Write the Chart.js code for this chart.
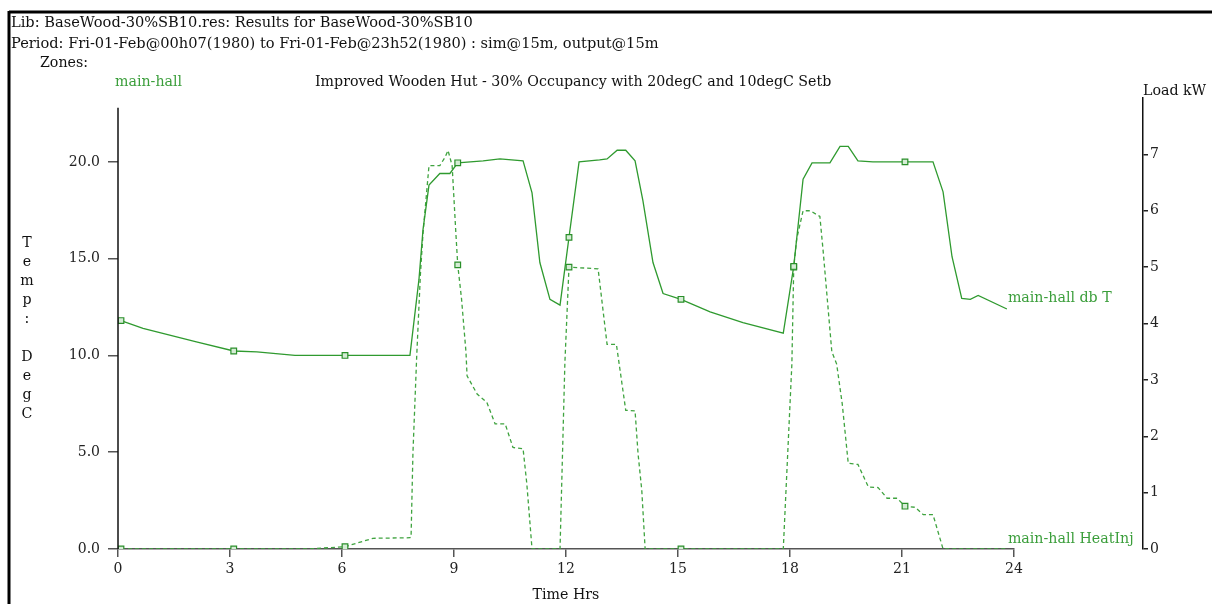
<!DOCTYPE html>
<html>
<head>
<meta charset="utf-8">
<script src="https://cdn.jsdelivr.net/npm/chart.js@4.4.1/dist/chart.umd.min.js"></script>
<style>
  html, body { margin: 0; padding: 0; background: #fff; }
  canvas { display: block; }
</style>
</head>
<body>
<canvas id="c" width="1212" height="604"></canvas>
<script>
// ---- data ----
const tempHours = [0.08, 0.67, 2.1, 3.1, 3.72, 4.74, 6.08, 7.82, 8.06, 8.17, 8.33, 8.62, 8.89, 9.1, 9.78, 10.23, 10.85, 11.09, 11.3, 11.57, 11.84, 12.08, 12.35, 12.9, 13.1, 13.37, 13.6, 13.85, 14.06, 14.33, 14.6, 15.08, 15.86, 16.74, 17.82, 18.1, 18.35, 18.59, 19.07, 19.34, 19.56, 19.82, 20.22, 21.08, 21.83, 22.1, 22.34, 22.6, 22.83, 23.04, 23.81];
const tempValues = [11.8, 11.4, 10.7, 10.23, 10.18, 10.0, 10.0, 10.0, 13.9, 16.5, 18.8, 19.4, 19.4, 19.95, 20.05, 20.15, 20.05, 18.4, 14.8, 12.9, 12.6, 16.1, 20.0, 20.1, 20.15, 20.6, 20.6, 20.05, 18.0, 14.8, 13.2, 12.9, 12.25, 11.7, 11.15, 14.6, 19.1, 19.95, 19.95, 20.8, 20.8, 20.05, 20.0, 20.0, 20.0, 18.45, 15.1, 12.95, 12.9, 13.1, 12.4];

const loadHours = [0.08, 3.1, 5.06, 6.08, 6.83, 7.82, 7.85, 7.9, 8.0, 8.1, 8.17, 8.33, 8.62, 8.76, 8.84, 8.95, 9.05, 9.1, 9.2, 9.32, 9.35, 9.62, 9.88, 10.1, 10.37, 10.58, 10.85, 10.95, 11.09, 11.84, 11.97, 12.08, 12.86, 13.1, 13.35, 13.6, 13.85, 13.93, 14.03, 14.12, 15.08, 17.82, 18.05, 18.1, 18.18, 18.35, 18.54, 18.8, 18.89, 19.12, 19.25, 19.4, 19.56, 19.82, 20.1, 20.36, 20.6, 20.87, 21.08, 21.35, 21.57, 21.83, 22.1, 23.81];
const loadValues = [0, 0, 0, 0.04, 0.19, 0.2, 0.21, 1.7, 3.4, 4.87, 5.6, 6.8, 6.8, 6.95, 7.07, 6.8, 5.6, 5.04, 4.45, 3.5, 3.07, 2.75, 2.6, 2.22, 2.22, 1.8, 1.78, 1.16, 0, 0, 3.3, 5.0, 4.97, 3.63, 3.63, 2.46, 2.45, 1.69, 1.04, 0, 0, 0, 3.28, 5.0, 5.5, 6.0, 6.0, 5.9, 5.27, 3.5, 3.28, 2.57, 1.52, 1.5, 1.1, 1.09, 0.9, 0.9, 0.76, 0.74, 0.61, 0.61, 0, 0];

const markerHours = [0.08, 3.1, 6.08, 9.1, 12.08, 15.08, 18.1, 21.08];
const xTickValues = [0, 3, 6, 9, 12, 15, 18, 21, 24];
const tempTickValues = [0, 5, 10, 15, 20];
const loadTickValues = [0, 1, 2, 3, 4, 5, 6, 7];

const headerLine1 = 'Lib: BaseWood-30%SB10.res: Results for BaseWood-30%SB10';
const headerLine2 = 'Period: Fri-01-Feb@00h07(1980) to Fri-01-Feb@23h52(1980) : sim@15m, output@15m';
const zonesLabel = 'Zones:';
const zoneName = 'main-hall';
const chartTitle = 'Improved Wooden Hut - 30% Occupancy with 20degC and 10degC Setb';
const yTitleLetters = ['T', 'e', 'm', 'p', ':', '', 'D', 'e', 'g', 'C'];
const y2Title = 'Load kW';
const xTitle = 'Time Hrs';
const tempSeriesName = 'main-hall db T';
const loadSeriesName = 'main-hall HeatInj';

// ---- styling ----
const FONT = "'DejaVu Serif', 'Liberation Serif', serif";
const GREEN_LINE = '#2f9a2f';
const GREEN_DASH = '#3fa33f';
const GREEN_TEXT = '#3b9e3b';
Chart.defaults.font.family = FONT;
Chart.defaults.font.size = 14;
Chart.defaults.color = '#222';

const tempData = tempHours.map((h, i) => ({ x: h, y: tempValues[i] }));
const loadData = loadHours.map((h, i) => ({ x: h, y: loadValues[i] }));

function markerRadius(hours) {
  return (ctx) => markerHours.includes(hours[ctx.dataIndex]) ? 4 : 0;
}

const decorPlugin = {
  id: 'decor',
  beforeDraw(chart) {
    const c = chart.ctx;
    c.save();
    c.fillStyle = '#fff';
    c.fillRect(0, 0, chart.width, chart.height);
    c.strokeStyle = '#000';
    c.lineWidth = 3;
    c.beginPath();
    c.moveTo(9, 12);
    c.lineTo(chart.width, 12);
    c.moveTo(9, 11);
    c.lineTo(9, chart.height);
    c.stroke();
    c.restore();
  },
  afterDraw(chart) {
    const c = chart.ctx;
    const xs = chart.scales.x, ys = chart.scales.y, yl = chart.scales.yLoad;
    c.save();
    c.textBaseline = 'middle';
    c.textAlign = 'left';
    c.fillStyle = '#111';
    c.font = '14.6px ' + FONT;
    c.fillText(headerLine1, 11, 23);
    c.fillText(headerLine2, 11, 44);
    c.font = '14.2px ' + FONT;
    c.fillText(zonesLabel, 40, 63);
    c.fillText(chartTitle, 315, 82);
    c.fillText(y2Title, 1143, 91);
    c.textAlign = 'center';
    c.fillText(xTitle, (chart.chartArea.left + chart.chartArea.right) / 2, 595);
    yTitleLetters.forEach((ch, i) => { if (ch) c.fillText(ch, 27, 243 + i * 19); });
    c.textAlign = 'left';
    c.fillStyle = GREEN_TEXT;
    c.fillText(zoneName, 115, 82);
    const lastT = tempData[tempData.length - 1];
    c.fillText(tempSeriesName, xs.getPixelForValue(lastT.x) + 1, ys.getPixelForValue(lastT.y) - 11);
    const lastL = loadData[loadData.length - 1];
    c.fillText(loadSeriesName, xs.getPixelForValue(lastL.x) + 1, yl.getPixelForValue(lastL.y) - 10);
    // left axis line (shorter than the plot area)
    c.strokeStyle = '#111';
    c.lineWidth = 1.5;
    c.beginPath();
    c.moveTo(xs.left, ys.getPixelForValue(22.8));
    c.lineTo(xs.left, ys.getPixelForValue(0));
    c.stroke();
    c.restore();
  }
};

new Chart(document.getElementById('c'), {
  type: 'line',
  data: {
    datasets: [
      {
        label: tempSeriesName,
        data: tempData,
        yAxisID: 'y',
        borderColor: GREEN_LINE,
        borderWidth: 1.3,
        tension: 0,
        pointStyle: 'rect',
        pointRadius: markerRadius(tempHours),
        pointBackgroundColor: '#d6ecd6',
        pointBorderColor: '#2a8f2a',
        pointBorderWidth: 1.2,
        fill: false
      },
      {
        label: loadSeriesName,
        data: loadData,
        yAxisID: 'yLoad',
        borderColor: GREEN_DASH,
        borderWidth: 1.3,
        borderDash: [4, 3],
        tension: 0,
        pointStyle: 'rect',
        pointRadius: markerRadius(loadHours),
        pointBackgroundColor: '#d6ecd6',
        pointBorderColor: '#2a8f2a',
        pointBorderWidth: 1.2,
        fill: false
      }
    ]
  },
  options: {
    responsive: false,
    animation: false,
    devicePixelRatio: 1,
    layout: { padding: { top: 98, left: 0, right: 0, bottom: 0 } },
    plugins: { legend: { display: false }, tooltip: { enabled: false }, title: { display: false } },
    scales: {
      x: {
        type: 'linear',
        min: 0, max: 24,
        afterBuildTicks: (s) => { s.ticks = xTickValues.map(v => ({ value: v })); },
        ticks: { padding: 4, color: '#222', font: { size: 14 }, callback: (v) => String(v), maxRotation: 0 },
        grid: { drawOnChartArea: false, drawTicks: true, tickLength: 8, color: '#555', lineWidth: 1.5 },
        border: { display: true, color: '#555', width: 1.5 },
        afterFit: (s) => { s.height = 55; }
      },
      y: {
        type: 'linear',
        position: 'left',
        min: 0, max: 23.3,
        afterBuildTicks: (s) => { s.ticks = tempTickValues.map(v => ({ value: v })); },
        ticks: { padding: 8, color: '#222', font: { size: 14 }, callback: (v) => Number(v).toFixed(1) },
        grid: { drawOnChartArea: false, drawTicks: true, tickLength: 10, color: '#555', lineWidth: 1.5 },
        border: { display: false },
        afterFit: (s) => { s.width = 118; }
      },
      ySpacer: {
        type: 'linear',
        position: 'right',
        weight: 0,
        display: true,
        grid: { display: false },
        border: { display: false },
        ticks: { display: false },
        afterFit: (s) => { s.width = 129; }
      },
      yLoad: {
        type: 'linear',
        position: 'right',
        weight: 1,
        min: 0, max: 8,
        afterBuildTicks: (s) => { s.ticks = loadTickValues.map(v => ({ value: v })); },
        ticks: { padding: 2, color: '#222', font: { size: 14 }, callback: (v) => String(v) },
        grid: { drawOnChartArea: false, drawTicks: true, tickLength: 5, color: '#222', lineWidth: 1.5 },
        border: { display: true, color: '#111', width: 1.5 },
        afterFit: (s) => { s.width = 69; }
      }
    }
  },
  plugins: [decorPlugin]
});
</script>
</body>
</html>
